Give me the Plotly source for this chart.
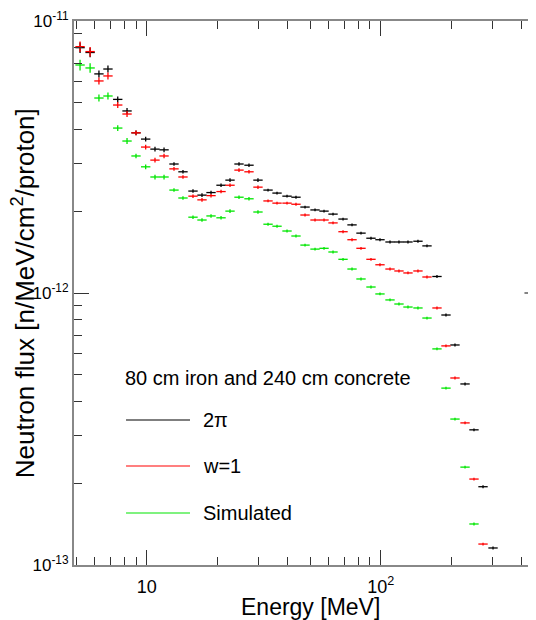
import plotly.graph_objects as go

# ---- data ----
energy_mev = [5.19, 5.73, 6.25, 6.83, 7.52, 8.24, 9.00, 9.90, 10.85, 11.86,
              13.08, 14.29, 15.77, 17.23, 18.83, 20.78, 22.70, 24.80, 27.36, 29.89,
              33.00, 36.05, 39.78, 43.45, 47.49, 52.40, 57.25, 62.55, 69.03, 75.41,
              82.38, 90.88, 99.3, 109.6, 119.7, 130.8, 144.3, 157.7, 174.0, 190.1,
              207.7, 229.3, 250.4, 273.7, 302.0]

# flux in units of 1e-12 n/MeV/cm^2/proton
flux_2pi = [7.98, 7.66, 6.39, 6.66, 5.15, 4.67, 3.88, 3.68, 3.38, 3.36,
            2.98, 2.79, 2.37, 2.29, 2.34, 2.49, 2.60, 2.98, 2.95, 2.60,
            2.39, 2.33, 2.27, 2.25, 2.07, 2.02, 2.00, 1.95, 1.87, 1.78,
            1.66, 1.59, 1.57, 1.54, 1.54, 1.54, 1.55, 1.49, 1.15, 0.830,
            0.644, 0.463, 0.314, 0.194, 0.1155]

flux_w1 = [8.05, 7.72, 6.02, 6.28, 4.91, 4.55, 3.88, 3.44, 3.08, 3.19,
           2.86, 2.67, 2.27, 2.20, 2.28, 2.36, 2.49, 2.83, 2.79, 2.45,
           2.18, 2.14, 2.14, 2.12, 1.935, 1.855, 1.855, 1.81, 1.68, 1.57,
           1.46, 1.33, 1.27, 1.225, 1.205, 1.185, 1.205, 1.145, 0.881, 0.639,
           0.487, 0.333, 0.207, 0.1194]

flux_sim = [6.89, 6.72, 5.21, 5.30, 4.04, 3.62, 3.19, 2.91, 2.67, 2.67,
            2.39, 2.235, 1.90, 1.855, 1.92, 1.89, 2.00, 2.25, 2.22, 1.985,
            1.79, 1.76, 1.69, 1.62, 1.50, 1.45, 1.46, 1.415, 1.33, 1.225,
            1.126, 1.052, 0.992, 0.943, 0.911, 0.888, 0.881, 0.809, 0.623, 0.447,
            0.344, 0.229, 0.1415]

# relative statistical error per bin
rel_err = [0.045, 0.04, 0.03, 0.03, 0.025, 0.025, 0.02, 0.02, 0.02, 0.02,
           0.015, 0.015, 0.015, 0.015, 0.015, 0.015, 0.015, 0.015, 0.015, 0.015,
           0.012, 0.012, 0.012, 0.012, 0.012, 0.012, 0.012, 0.012, 0.012, 0.012,
           0.012, 0.012, 0.012, 0.012, 0.012, 0.012, 0.012, 0.012, 0.012, 0.012,
           0.012, 0.012, 0.012, 0.012, 0.012]

series_names = ["2\u03c0", "w=1", "Simulated"]
series_colors = ["#000000", "#ff0000", "#00e600"]
legend_title = "80 cm iron and 240 cm concrete"
x_title = "Energy [MeV]"
y_title = "Neutron flux [n/MeV/cm<sup>2</sup>/proton]"

HALF_BIN_DEC = 0.02  # half bin width in decades (style of bars)
FONT = "Liberation Sans, Arial, Helvetica, sans-serif"

fig = go.Figure()
for name, col, vals in zip(series_names, series_colors, [flux_2pi, flux_w1, flux_sim]):
    n = len(vals)
    xs = energy_mev[:n]
    ys = [v * 1e-12 for v in vals]
    ex_plus = [e * (10 ** HALF_BIN_DEC - 1) for e in xs]
    ex_minus = [e * (1 - 10 ** -HALF_BIN_DEC) for e in xs]
    ey = [y * r for y, r in zip(ys, rel_err[:n])]
    fig.add_trace(go.Scatter(
        x=xs, y=ys, mode="markers", name=name, showlegend=False,
        marker=dict(size=0, color="rgba(0,0,0,0)"),
        error_x=dict(type="data", symmetric=False, array=ex_plus, arrayminus=ex_minus,
                     color=col, thickness=1.3, width=0),
        error_y=dict(type="data", array=ey, color=col, thickness=1.3, width=0),
        hoverinfo="x+y+name",
    ))

# legend drawn inside the plot
leg_y = [0.2665, 0.182, 0.0956]
for name, col, yy in zip(series_names, series_colors, leg_y):
    fig.add_shape(type="line", xref="paper", yref="paper", x0=0.1126, x1=0.2511,
                  y0=yy, y1=yy, line=dict(color=col, width=1.2))
    fig.add_annotation(xref="paper", yref="paper", x=0.2749, y=yy, text=name,
                       showarrow=False, xanchor="left", yanchor="middle",
                       font=dict(size=20, color="#000", family=FONT))
fig.add_annotation(xref="paper", yref="paper", x=0.106, y=0.3438, text=legend_title,
                   showarrow=False, xanchor="left", yanchor="middle",
                   font=dict(size=20, color="#000", family=FONT))

# axis titles
fig.add_annotation(xref="paper", yref="paper", x=0.511, y=-0.0772, text=x_title,
                   showarrow=False, xanchor="center", yanchor="middle",
                   font=dict(size=23, color="#000", family=FONT))
fig.add_annotation(xref="paper", yref="paper", x=-0.11, y=0.5, text=y_title,
                   textangle=-90, showarrow=False, xanchor="center", yanchor="middle",
                   font=dict(size=26, color="#000", family=FONT))

# right-axis major tick at 1e-12 (right axis lies just outside the picture)
fig.add_shape(type="line", xref="paper", yref="y domain", x0=0.975, x1=1.0,
              y0=0.5, y1=0.5, line=dict(color="#333", width=1.2))

axis_common = dict(
    type="log", showgrid=False, zeroline=False, showline=True,
    linecolor="#888", linewidth=2, ticks="inside", tickcolor="#333",
    tickwidth=1.2, ticklen=15,
    minor=dict(ticks="inside", ticklen=8, tickcolor="#333", tickwidth=1.2,
               dtick="D1", showgrid=False),
)

fig.update_xaxes(
    **axis_common,
    range=[0.6893, 2.6637], dtick=1,
    tickvals=[10, 100], ticktext=["10", "10<sup>2</sup>"],
    tickfont=dict(size=18, color="#000", family=FONT),
    ticklabelstandoff=4,
    mirror="allticks",
)
fig.update_yaxes(
    **axis_common,
    range=[-13, -11], dtick=1,
    tickvals=[1e-13, 1e-12, 1e-11],
    ticktext=["10<sup>-13</sup>", "10<sup>-12</sup>", "10<sup>-11</sup>"],
    tickfont=dict(size=17, color="#000", family=FONT),
    mirror=False,
)

# page body has an 8px margin: figure sized so the plot lands where the reference has it
fig.update_layout(
    width=528, height=612,
    margin=dict(l=66, r=0, t=13, b=55, autoexpand=False),
    plot_bgcolor="white", paper_bgcolor="white",
    font=dict(family=FONT, color="#000"),
)

fig.write_html("out.html")
